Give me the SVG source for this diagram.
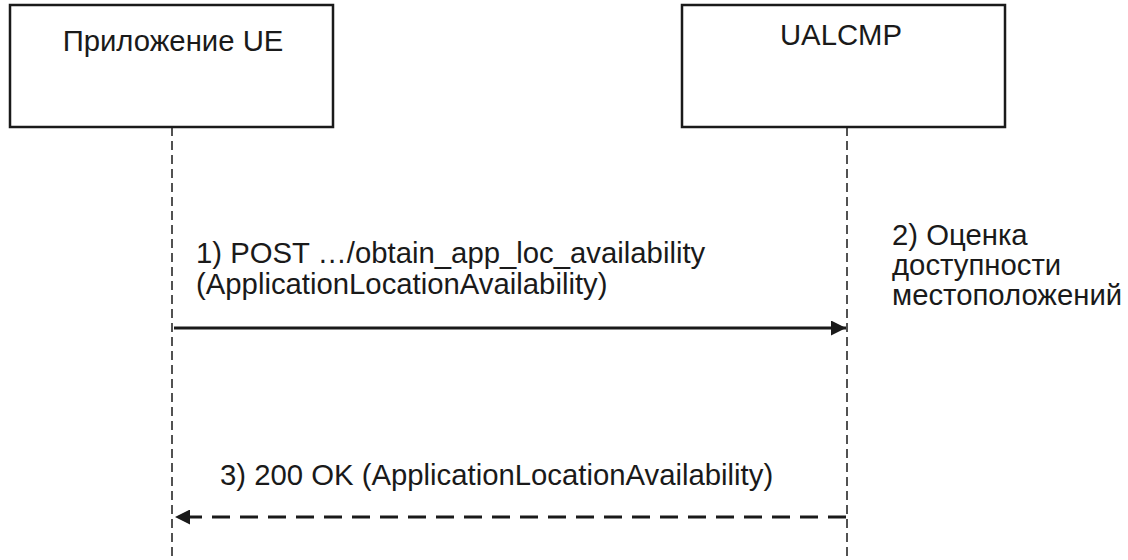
<svg xmlns="http://www.w3.org/2000/svg" width="1128" height="560" viewBox="0 0 1128 560">
<style>
.box{fill:#fff;stroke:#1a1a1a;stroke-width:2.5}
.life{stroke:#1a1a1a;stroke-width:1.5;stroke-dasharray:9,5;fill:none}
.t{font-family:"Liberation Sans",Arial,sans-serif;font-size:29.3px;fill:#1a1a1a}
.msg{stroke:#1a1a1a;stroke-width:3;fill:none}
</style>
<defs>
<marker id="ah" viewBox="0 0 10 10" refX="10" refY="5" markerWidth="5" markerHeight="5" markerUnits="strokeWidth" orient="auto">
<path d="M0,0 L10,5 L0,10 z" fill="#1a1a1a"/>
</marker>
</defs>
<g id="ue">
<rect class="box" x="10" y="5" width="323" height="122"/>
<text class="t" x="173" y="51" text-anchor="middle" font-size="30.5">Приложение UE</text>
</g>
<g id="ualcmp">
<rect class="box" x="682" y="5" width="323" height="122"/>
<text class="t" x="841" y="45" text-anchor="middle">UALCMP</text>
</g>
<g id="connectors">
<line class="life" x1="172" y1="127" x2="172" y2="560"/>
<line class="life" x1="847" y1="127" x2="847" y2="560"/>
<line class="msg" x1="174" y1="328" x2="846" y2="328" marker-end="url(#ah)"/>
<line class="msg" x1="846" y1="517" x2="175" y2="517" stroke-dasharray="18,10" marker-end="url(#ah)"/>
</g>
<g id="labels">
<text class="t" x="196" y="263">1) POST …/obtain_app_loc_availability</text>
<text class="t" x="196" y="294">(ApplicationLocationAvailability)</text>
<text class="t" x="892" y="245">2) Оценка</text>
<text class="t" x="892" y="275">доступности</text>
<text class="t" x="892" y="305">местоположений</text>
<text class="t" x="220" y="485">3) 200 OK (ApplicationLocationAvailability)</text>
</g>
</svg>
